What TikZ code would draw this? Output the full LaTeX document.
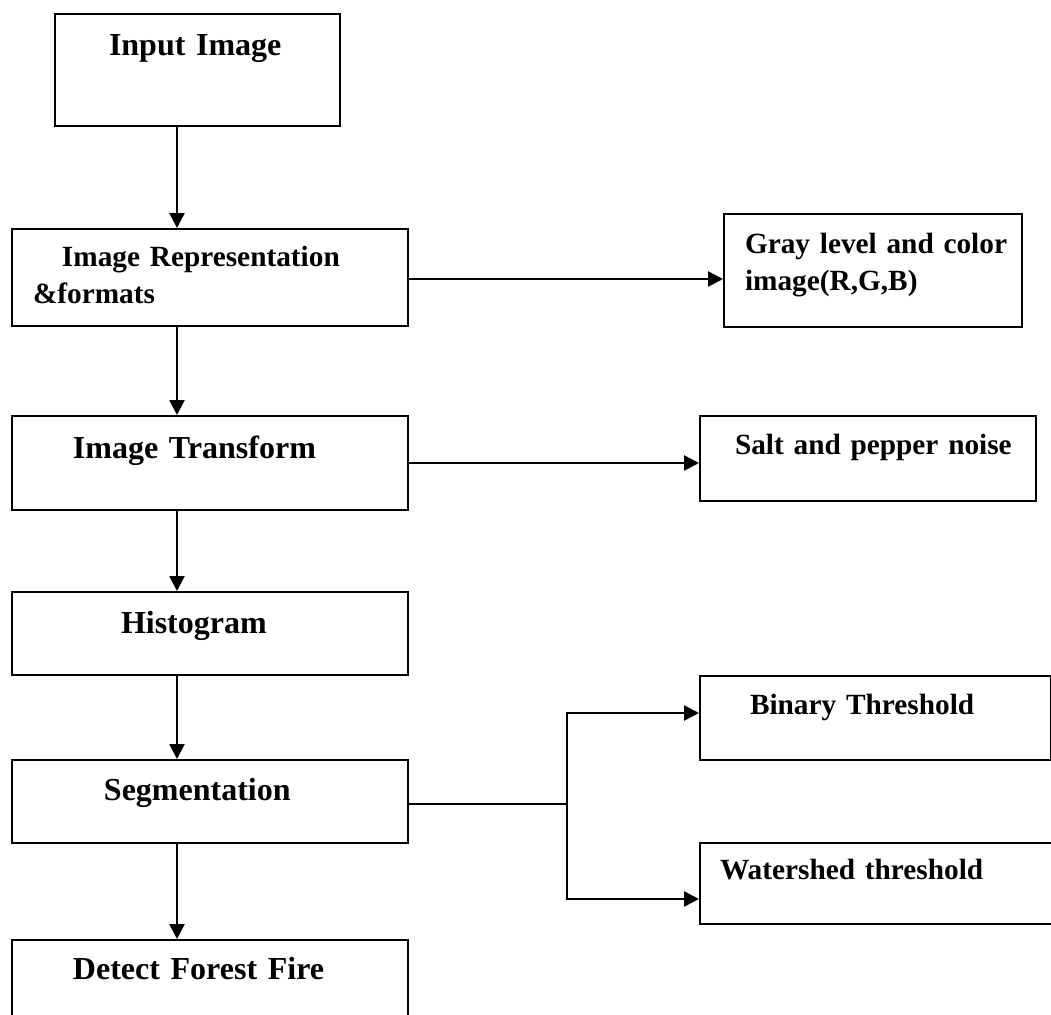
\documentclass[tikz,border=0pt]{standalone}
\usepackage{fontspec}
\setmainfont{Liberation Serif}
\usetikzlibrary{arrows.meta}
\tikzset{
box/.style={draw, line width=2pt, rectangle, inner sep=0pt, anchor=north west, align=left, font=\fontsize{32}{38}\selectfont\bfseries}, % every block of the flow
smallbox/.style={box, font=\fontsize{29.3}{37.5}\selectfont\bfseries}, % blocks with the smaller lettering
arr/.style={line width=2.5pt, -{Triangle[length=15pt,width=15pt]}}, % connectors with a filled head
}
\begin{document}
\begin{tikzpicture}[x=1pt, y=-1pt]
\useasboundingbox[fill=white] (0,0) rectangle (1051,1014);
\coordinate (spine) at (177,0);
\coordinate (fork) at (567,804);
% main column
\node[box, text width=285pt, text height=42pt, text depth=70pt] (input) at (54,13) {\hspace*{54pt}Input Image};
\node[smallbox, text width=396pt, text height=37pt, text depth=60pt] (repr) at (11,228) {\hspace*{50pt}Image Representation\\\hspace*{21pt}\&formats};
\node[box, text width=396pt, text height=42pt, text depth=52pt] (trans) at (11,415) {\hspace*{61pt}Image Transform};
\node[box, text width=396pt, text height=41pt, text depth=42pt] (hist) at (11,591) {\hspace*{109pt}Histogram};
\node[box, text width=396pt, text height=40pt, text depth=43pt] (seg) at (11,759) {\hspace*{92pt}Segmentation};
\node[box, text width=396pt, text height=39pt, text depth=52pt] (detect) at (11,939) {\hspace*{61pt}Detect Forest Fire};
% side blocks
\node[smallbox, text width=298pt, text height=39pt, text depth=74pt] (gray) at (723,213) {\hspace*{21pt}Gray level and color\\\hspace*{21pt}image(R,G,B)};
\node[smallbox, text width=336pt, text height=38pt, text depth=47pt] (salt) at (699,415) {\hspace*{35pt}Salt and pepper noise};
\node[smallbox, text width=351pt, text height=38pt, text depth=46pt] (binary) at (699,675) {\hspace*{50pt}Binary Threshold};
\node[smallbox, text width=366pt, text height=36pt, text depth=45pt] (water) at (699,842) {\hspace*{20pt}Watershed threshold};
% vertical flow
\draw[arr] (input.south -| spine) -- (repr.north -| spine);
\draw[arr] (repr.south -| spine) -- (trans.north -| spine);
\draw[arr] (trans.south -| spine) -- (hist.north -| spine);
\draw[arr] (hist.south -| spine) -- (seg.north -| spine);
\draw[arr] (seg.south -| spine) -- (detect.north -| spine);
% branches
\draw[arr] ([yshift=-1.5pt]repr.east) -- ([yshift=-1.5pt]repr.east -| gray.west);
\draw[arr] (trans.east) -- (trans.east -| salt.west);
\draw[line width=2.5pt] (seg.east |- fork) -- (fork);
\draw[arr] (fork) |- ([yshift=5pt]binary.west);
\draw[arr] (fork) |- ([yshift=-15.5pt]water.west);
\end{tikzpicture}
\end{document}
